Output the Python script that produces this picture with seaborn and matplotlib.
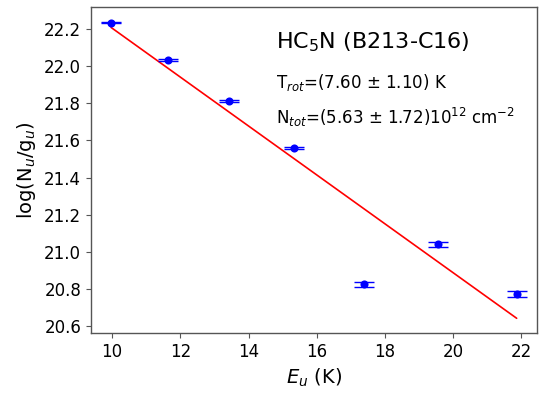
import numpy as np
import pandas as pd
import matplotlib
matplotlib.use("Agg")
import matplotlib.pyplot as plt
import seaborn as sns

# Data
E_u = [9.97, 11.63, 13.42, 15.34, 17.38, 19.55, 21.86]
log_Ng = [22.236, 22.033, 21.811, 21.558, 20.825, 21.039, 20.771]
log_err = [0.003, 0.005, 0.005, 0.006, 0.013, 0.013, 0.018]

title_txt = "HC$_5$N (B213-C16)"
trot_txt = "T$_{rot}$=(7.60 ± 1.10) K"
ntot_txt = "N$_{tot}$=(5.63 ± 1.72)10$^{12}$ cm$^{-2}$"

sns.set_style("ticks")
plt.rcParams['font.family'] = ['DejaVu Sans']
plt.rcParams['axes.edgecolor'] = '#555555'
plt.rcParams['axes.linewidth'] = 1.0
plt.rcParams['text.color'] = 'black'
plt.rcParams['axes.labelcolor'] = 'black'
plt.rcParams['xtick.color'] = 'black'
plt.rcParams['ytick.color'] = 'black'

df = pd.DataFrame({"E_u": E_u, "logN": log_Ng, "err": log_err})

fig = plt.figure(figsize=(5.44, 3.97), dpi=100)
ax = fig.add_subplot(111)
fig.subplots_adjust(left=0.167, right=0.987, top=0.982, bottom=0.161)

# linear fit from the data
p = np.polyfit(df["E_u"], df["logN"], 1)
fit = pd.DataFrame({"x": [df["E_u"].min(), df["E_u"].max()]})
fit["y"] = np.polyval(p, fit["x"])
sns.lineplot(data=fit, x="x", y="y", color="red", lw=1.2, ax=ax, zorder=2)

ax.errorbar(df["E_u"], df["logN"], yerr=df["err"], fmt="none", ecolor="blue",
            elinewidth=1.0, capsize=7, capthick=1.0, zorder=3)
sns.scatterplot(data=df, x="E_u", y="logN", color="blue", s=34, edgecolor="blue",
                linewidth=0, ax=ax, zorder=4)

ax.set_xlabel("$E_u$ (K)", fontsize=14)
ax.set_ylabel("log(N$_u$/g$_u$)", fontsize=14)
ax.tick_params(labelsize=12, direction="out", length=3.5, width=0.8,
               color="#555555", labelcolor="black")
ax.set_xticks([10, 12, 14, 16, 18, 20, 22])
ax.set_yticks(np.arange(20.6, 22.21, 0.2))

ax.text(0.415, 0.893, title_txt, transform=ax.transAxes, fontsize=16, va="center")
ax.text(0.415, 0.770, trot_txt, transform=ax.transAxes, fontsize=12, va="center")
ax.text(0.415, 0.663, ntot_txt, transform=ax.transAxes, fontsize=12, va="center")

fig.savefig("out.png", dpi=100)
